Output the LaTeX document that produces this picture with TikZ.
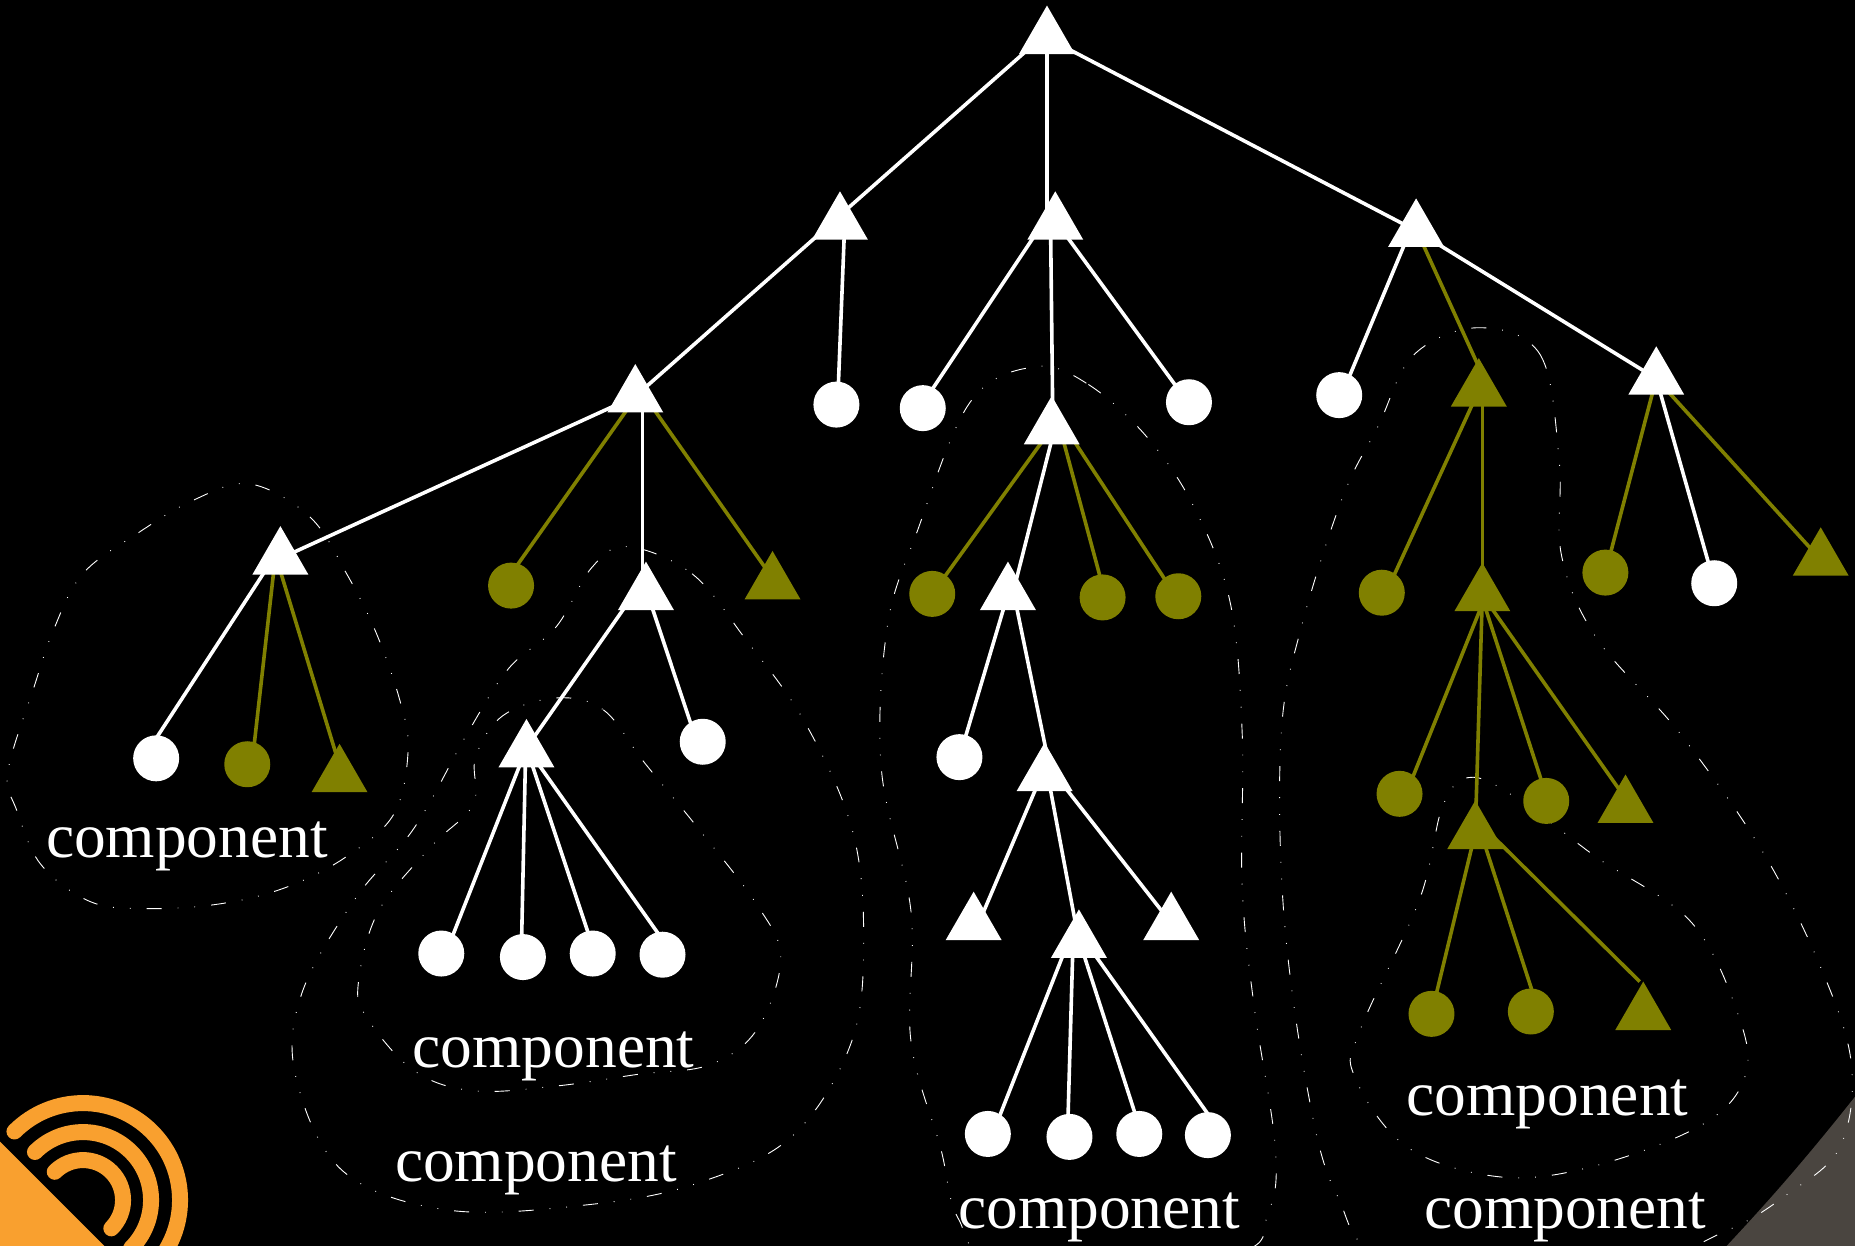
\documentclass[tikz,border=0pt]{standalone}
\usepackage{fontspec}
\setmainfont{Liberation Serif}
\usetikzlibrary{shapes.geometric}
\pgfdeclarelayer{bglayer}
\pgfdeclarelayer{edgelayer}
\pgfsetlayers{bglayer,edgelayer,main}
\definecolor{oliv}{HTML}{808000}
\definecolor{orng}{HTML}{F9A02F}
\definecolor{corner}{HTML}{4A4540}
\tikzset{
  wtri/.style={regular polygon,regular polygon sides=3,fill=white,minimum size=32.3pt,inner sep=0pt,outer sep=0pt},
  otri/.style={wtri,fill=oliv},
  wcirc/.style={circle,fill=white,minimum size=23pt,inner sep=0pt,outer sep=0pt},
  ocirc/.style={wcirc,fill=oliv},
  wedge/.style={draw=white,line width=1.8pt},
  oedge/.style={draw=oliv,line width=1.8pt},
  contour/.style={draw=white,line width=0.45pt,dash pattern=on 7.5pt off 8pt on 0.4pt off 8pt on 0.4pt off 8pt},
  lbl/.style={text=white,font=\fontsize{31.7}{36}\selectfont,anchor=base,inner sep=0pt},
  logo/.style={draw=orng,line width=8pt,line cap=round}
}
% \lnk{style}{from}{x offset}{to}{x offset}
\newcommand{\lnk}[5]{\draw[#1] ([shift={(#3,0)}]#2.center) -- ([shift={(#5,0)}]#4.center);}
\begin{document}
\begin{tikzpicture}[x=0.59152pt,y=-0.59152pt]
\useasboundingbox (0,0) rectangle (1568,1052.4);
% nodes
\node[wtri] (root) at (885,32) {};
\node[wtri] (A) at (710,189) {};
\node[wtri] (B) at (892,189) {};
\node[wtri] (C) at (1197,195) {};
\node[wtri] (D) at (537,335) {};
\node[wcirc] (a1) at (707,342) {};
\node[wcirc] (b1) at (780,345) {};
\node[wtri] (E) at (889,362) {};
\node[wcirc] (b3) at (1005,340) {};
\node[wcirc] (c1) at (1132,334) {};
\node[otri] (F) at (1250,330) {};
\node[wtri] (G) at (1400,320) {};
\node[wtri] (H) at (237,472) {};
\node[ocirc] (d2) at (432,495) {};
\node[wtri] (I) at (546,502) {};
\node[otri] (d4) at (653,493) {};
\node[wcirc] (h1) at (132,641) {};
\node[ocirc] (h2) at (209,646) {};
\node[otri] (h3) at (287,656) {};
\node[wtri] (J) at (445,635) {};
\node[wcirc] (i2) at (594,627) {};
\node[wcirc] (j1) at (373,806) {};
\node[wcirc] (j2) at (442,809) {};
\node[wcirc] (j3) at (501,806) {};
\node[wcirc] (j4) at (560,807) {};
\node[ocirc] (e1) at (788,502) {};
\node[wtri] (K) at (852,502) {};
\node[ocirc] (e3) at (932,505) {};
\node[ocirc] (e4) at (996,504) {};
\node[wcirc] (k1) at (811,640) {};
\node[wtri] (L) at (883,655) {};
\node[wtri] (l1) at (823,781) {};
\node[wtri] (M) at (912,796) {};
\node[wtri] (l3) at (990,781) {};
\node[wcirc] (m1) at (835,958.5) {};
\node[wcirc] (m2) at (904,961) {};
\node[wcirc] (m3) at (963,958.5) {};
\node[wcirc] (m4) at (1021,959.5) {};
\node[ocirc] (f1) at (1168,501) {};
\node[otri] (N) at (1253,503) {};
\node[ocirc] (n1) at (1183,671) {};
\node[otri] (O) at (1247,704) {};
\node[ocirc] (n3) at (1307,677) {};
\node[otri] (n4) at (1374,682) {};
\node[ocirc] (o1) at (1210,857) {};
\node[ocirc] (o2) at (1294,855) {};
\node[otri] (o3) at (1389,857) {};
\node[ocirc] (g1) at (1357,484) {};
\node[wcirc] (g2) at (1449,493) {};
\node[otri] (g3) at (1539,473) {};
% labels
\node[lbl] (t1) at (158,725) {component};
\node[lbl] (t2) at (468,902) {component};
\node[lbl] (t3) at (453,999) {component};
\node[lbl] (t4) at (929,1038) {component};
\node[lbl] (t5) at (1308,943) {component};
\node[lbl] (t6) at (1323,1038) {component};
% edges
\begin{pgfonlayer}{edgelayer}
\lnk{wedge}{root}{-5}{A}{-8}
\draw[wedge,line width=2.4pt] (root.center)--(root.center |- B.center);
\lnk{wedge}{root}{0}{C}{0}
\lnk{wedge}{A}{-7.5}{D}{0}
\lnk{wedge}{A}{4}{a1}{1}
\lnk{wedge}{B}{-10.7}{b1}{-2.6}
\lnk{wedge}{B}{-4}{E}{1}
\lnk{wedge}{B}{1.8}{b3}{-1}
\lnk{wedge}{C}{-5}{c1}{2}
\lnk{oedge}{C}{0.6}{F}{9}
\lnk{wedge}{C}{0}{G}{0}
\lnk{wedge}{D}{0}{H}{0}
\lnk{oedge}{D}{1}{d2}{-7}
\lnk{wedge}{D}{6}{I}{-3}
\lnk{oedge}{D}{8}{d4}{3}
\lnk{wedge}{H}{-6}{h1}{-11}
\lnk{oedge}{H}{-4.4}{h2}{4}
\lnk{oedge}{H}{-3.3}{h3}{2.7}
\lnk{wedge}{I}{-10}{J}{-2}
\lnk{wedge}{I}{1.4}{i2}{-5}
\lnk{wedge}{J}{-1}{j1}{3.7}
\lnk{wedge}{J}{-0.7}{j2}{-1.4}
\lnk{wedge}{J}{1}{j3}{2}
\lnk{wedge}{J}{2.4}{j4}{9}
\lnk{oedge}{E}{0}{e1}{0}
\lnk{wedge}{E}{2.5}{K}{4}
\lnk{oedge}{E}{7}{e3}{2.6}
\lnk{oedge}{E}{11.8}{e4}{-2}
\lnk{wedge}{K}{0}{k1}{0}
\lnk{wedge}{K}{5}{L}{5.5}
\lnk{wedge}{L}{-2.5}{l1}{4}
\lnk{wedge}{L}{2.6}{M}{0}
\lnk{wedge}{L}{9}{l3}{0.6}
\lnk{wedge}{M}{-9}{m1}{4}
\lnk{wedge}{M}{-5}{m2}{-1.7}
\lnk{wedge}{M}{0.6}{m3}{2}
\lnk{wedge}{M}{5.6}{m4}{12.7}
\lnk{oedge}{F}{0}{f1}{3.6}
\lnk{oedge}{F}{3}{N}{0}
\lnk{oedge}{N}{3}{n1}{5.5}
\lnk{oedge}{N}{0}{O}{0}
\lnk{oedge}{N}{-1}{n3}{1.5}
\lnk{oedge}{N}{0}{n4}{5}
\lnk{oedge}{O}{0}{o1}{0}
\lnk{oedge}{O}{4.8}{o2}{6.7}
\draw[oedge] ([shift={(12,0)}]O.center) -- ([shift={(-3,0)}]o3.corner 1);
\lnk{oedge}{G}{0}{g1}{0}
\lnk{wedge}{G}{0}{g2}{0}
\lnk{oedge}{G}{0}{g3}{0}
\end{pgfonlayer}
% background
\begin{pgfonlayer}{bglayer}
\clip (-4,-4) rectangle (1572,1058);
\fill[black] (-4,-4) rectangle (1572,1058);
\fill[corner] (1572,922) .. controls (1530,975) and (1500,1010) .. (1455,1058) -- (1572,1058) -- cycle;
\fill[orng] (-4,961) -- (93,1058) -- (-4,1058) -- cycle;
\begin{scope}
\clip (-4,-4) rectangle (1572,1052.4);
\draw[logo] (70.2,1014.4) ++(135:48.5pt) arc[start angle=135,end angle=-45,radius=48.5pt];
\draw[logo] (70.2,1014.4) ++(135:34pt) arc[start angle=135,end angle=-45,radius=34pt];
\draw[logo] (70.2,1014.4) ++(135:20pt) arc[start angle=135,end angle=-45,radius=20pt];
\end{scope}
\draw[contour] plot[smooth cycle,tension=0.6] coordinates {(211,409)(262,437)(293,485)(318,535)(338,592)(345,634)(333,688)(293,724)(242,750)(186,764)(124,768)(76,762)(34,730)(13,682)(6,662)(11,634)(28,583)(45,533)(70,485)(116,451)(163,423)};
\draw[contour] plot[smooth cycle,tension=0.6] coordinates {(470,590)(510,600)(545,645)(590,700)(640,765)(660,810)(640,870)(600,900)(540,908)(470,918)(400,922)(350,905)(310,860)(303,830)(320,770)(365,715)(400,680)(402,640)(425,605)};
\draw[contour] plot[smooth cycle,tension=0.6] coordinates {(530,462)(585,485)(630,540)(680,610)(720,700)(730,790)(720,880)(670,960)(590,1000)(500,1018)(380,1023)(290,990)(250,910)(255,840)(300,760)(350,700)(395,620)(430,565)(470,530)(500,480)};
\draw[contour] plot[smooth cycle,tension=0.6] coordinates {(875,310)(920,325)(970,370)(1010,430)(1040,510)(1050,620)(1050,750)(1060,850)(1078,970)(1072,1025)(1040,1060)(850,1065)(810,1030)(795,970)(770,880)(770,770)(745,650)(750,530)(775,450)(820,340)};
\draw[contour] plot[smooth cycle,tension=0.6] coordinates {(1250,277)(1302,300)(1318,390)(1320,470)(1350,540)(1420,620)(1490,720)(1540,820)(1565,900)(1555,970)(1510,1010)(1460,1040)(1380,1065)(1180,1065)(1130,1010)(1105,920)(1085,770)(1083,620)(1100,530)(1135,420)(1165,360)(1195,300)};
\draw[contour] plot[smooth cycle,tension=0.6] coordinates {(1245,657)(1290,680)(1350,725)(1430,780)(1470,860)(1475,910)(1440,950)(1350,985)(1270,995)(1190,970)(1145,910)(1150,870)(1200,760)(1220,680)};
\end{pgfonlayer}
\end{tikzpicture}
\end{document}
